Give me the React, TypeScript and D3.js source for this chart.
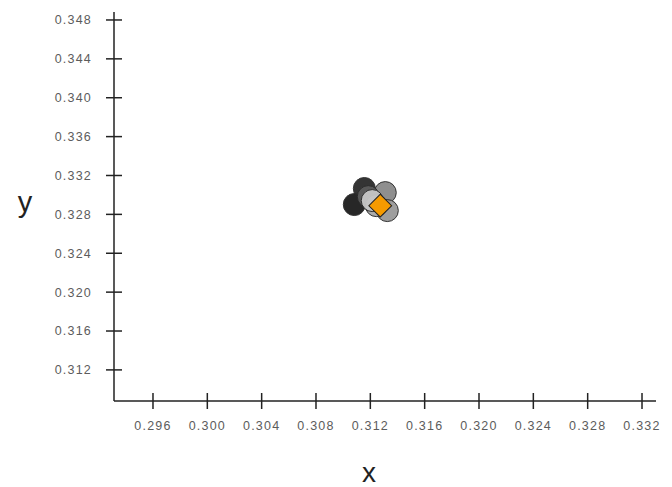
import React from "react";
import * as d3 from "d3";

const xTicks = [0.296, 0.3, 0.304, 0.308, 0.312, 0.316, 0.32, 0.324, 0.328, 0.332];
const yTicks = [0.312, 0.316, 0.32, 0.324, 0.328, 0.332, 0.336, 0.34, 0.344, 0.348];
const xDomain = [0.29313, 0.33303];
const yDomain = [0.3088, 0.34882];

const sampleX = [0.31082, 0.31156, 0.3131, 0.31325, 0.31185, 0.31244, 0.31214];
const sampleY = [0.32901, 0.33066, 0.33024, 0.32839, 0.32983, 0.3289, 0.32942];
const sampleFill = ["#1c1c1c", "#2a2a2a", "#8a8a8a", "#999999", "#5a5a5a", "#a8a8a8", "#c6c6c6"];
const meanX = [0.31273];
const meanY = [0.3289];

export default function App() {
  const W = 672, H = 487;
  const left = 114, right = 656, top = 12, bottom = 401;
  const x = d3.scaleLinear().domain(xDomain).range([left, right]);
  const y = d3.scaleLinear().domain(yDomain).range([bottom, top]);
  const fmt = d3.format(".3f");
  const diamond = d3.symbol().type(d3.symbolSquare).size(260)();
  return (
    <svg width={W} height={H} style={{ position: "absolute", left: 0, top: 0 }} fontFamily="Liberation Sans, Arial, sans-serif">
      <line x1={left} x2={left} y1={top} y2={bottom} stroke="#222" strokeWidth={1.5} />
      <line x1={left} x2={right} y1={bottom} y2={bottom} stroke="#222" strokeWidth={1.5} />
      {yTicks.map((t) => (
        <g key={"y" + t}>
          <line x1={left - 8} x2={left + 8} y1={y(t)} y2={y(t)} stroke="#222" strokeWidth={1.5} />
          <text x={92} y={y(t)} dy="0.35em" textAnchor="end" fontSize={12.5} letterSpacing={1.2} fill="#5c5c5c">{fmt(t)}</text>
        </g>
      ))}
      {xTicks.map((t) => (
        <g key={"x" + t}>
          <line x1={x(t)} x2={x(t)} y1={bottom - 8} y2={bottom + 8} stroke="#222" strokeWidth={1.5} />
          <text x={x(t)} y={426} dy="0.35em" textAnchor="middle" fontSize={12.5} letterSpacing={1.2} fill="#5c5c5c">{fmt(t)}</text>
        </g>
      ))}
      <text x={369} y={482} textAnchor="middle" fontSize={28} fill="#222">x</text>
      <text x={25} y={212} textAnchor="middle" fontSize={29} fill="#222">y</text>
      {sampleX.map((v, i) => (
        <circle key={i} cx={x(v)} cy={y(sampleY[i])} r={11} fill={sampleFill[i]} stroke="#2a2a2a" strokeWidth={1} opacity={0.95} />
      ))}
      {meanX.map((v, i) => (
        <path key={"m" + i} d={diamond} transform={`translate(${x(v)},${y(meanY[i])}) rotate(45)`} fill="#f59a00" stroke="#222" strokeWidth={1} />
      ))}
    </svg>
  );
}
